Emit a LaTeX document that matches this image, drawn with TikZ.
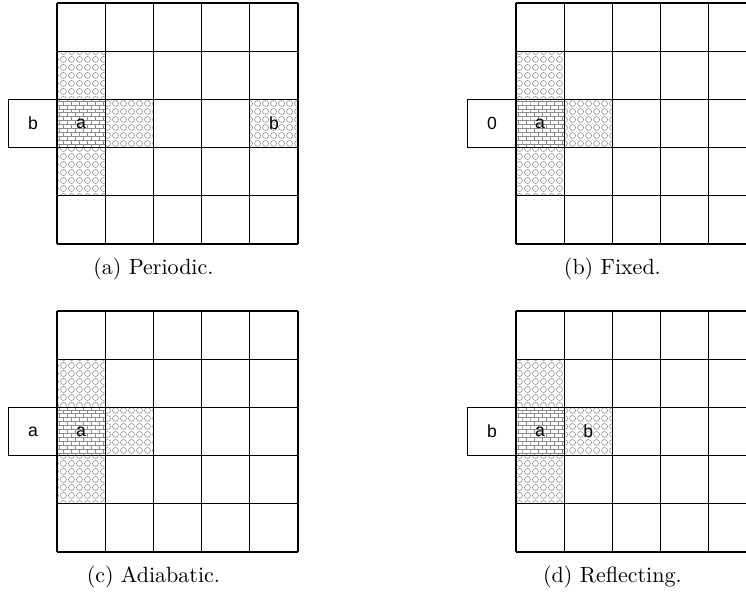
\documentclass[tikz,border=0pt]{standalone}
\usepackage{fontspec}
\newfontfamily\labelfont{Liberation Sans}
\usetikzlibrary{patterns}
\pgfdeclarepatternformonly{rings}{\pgfqpoint{0pt}{0pt}}{\pgfqpoint{3.4pt}{3.4pt}}{\pgfqpoint{3.4pt}{3.4pt}}{%
  \pgfsetlinewidth{0.3pt}%
  \pgfpathcircle{\pgfqpoint{1.7pt}{1.7pt}}{1.45pt}%
  \pgfusepath{stroke}}
\pgfdeclarepatternformonly{smallbricks}{\pgfqpoint{-0.2pt}{-0.2pt}}{\pgfqpoint{3.8pt}{3.8pt}}{\pgfqpoint{3.6pt}{3.6pt}}{%
  \pgfsetlinewidth{0.3pt}%
  \pgfpathmoveto{\pgfqpoint{0pt}{0pt}}\pgfpathlineto{\pgfqpoint{3.6pt}{0pt}}%
  \pgfpathmoveto{\pgfqpoint{0pt}{1.8pt}}\pgfpathlineto{\pgfqpoint{3.6pt}{1.8pt}}%
  \pgfpathmoveto{\pgfqpoint{0pt}{0pt}}\pgfpathlineto{\pgfqpoint{0pt}{1.8pt}}%
  \pgfpathmoveto{\pgfqpoint{1.8pt}{1.8pt}}\pgfpathlineto{\pgfqpoint{1.8pt}{3.6pt}}%
  \pgfusepath{stroke}}
\begin{document}
\begin{tikzpicture}[x=0.4545pt,y=-0.4545pt,
  gridline/.style={draw=black,line width=0.5pt},
  ringfill/.style={pattern=rings,pattern color=black!40},
  brickfill/.style={pattern=smallbricks,pattern color=black!45},
  lbl/.style={font=\labelfont\fontsize{8}{9}\selectfont,inner sep=0pt},
  captext/.style={font=\fontsize{10}{12}\selectfont,anchor=base,inner sep=0pt}]
\useasboundingbox (0,0) rectangle (746,596);
\def\c{48.2}
\foreach \X/\Y/\E/\B/\i/\cp in {57/3/b//a/{(a) Periodic.},516/3/0//b/{(b) Fixed.},57/311/a//c/{(c) Adiabatic.},516/311/b/b/d/{(d) Reflecting.}}{
  % shaded cells
  \fill[ringfill] (\X,\Y+\c) rectangle ++(\c,\c);
  \fill[ringfill] (\X,\Y+3*\c) rectangle ++(\c,\c);
  \fill[ringfill] (\X+\c,\Y+2*\c) rectangle ++(\c,\c);
  \fill[brickfill] (\X,\Y+2*\c) rectangle ++(\c,\c);
  % grid lines
  \foreach \k in {0,...,5}{
    \draw[gridline] (\X+\k*\c,\Y) -- (\X+\k*\c,\Y+5*\c);
    \draw[gridline] (\X,\Y+\k*\c) -- (\X+5*\c,\Y+\k*\c);
  }
  % extra boundary cell
  \draw[gridline] (\X,\Y+2*\c) -- (\X-\c,\Y+2*\c) -- (\X-\c,\Y+3*\c) -- (\X,\Y+3*\c);
  \node[lbl] (ext\i) at (\X-0.5*\c,\Y+2.5*\c) {\E};
  \node[lbl] (cen\i) at (\X+0.5*\c,\Y+2.5*\c) {a};
  \node[lbl] (nb\i) at (\X+1.5*\c,\Y+2.5*\c) {\B};
  \node[captext] (cap\i) at (\X+2*\c,\Y+271) {\cp};
}
% periodic image on the far side
\fill[ringfill] (57+4*\c,3+2*\c) rectangle ++(\c,\c);
\draw[gridline] (57+4*\c,3+2*\c) rectangle ++(\c,\c);
\node[lbl] (farb) at (57+4.5*\c,3+2.5*\c) {b};
\end{tikzpicture}
\end{document}
